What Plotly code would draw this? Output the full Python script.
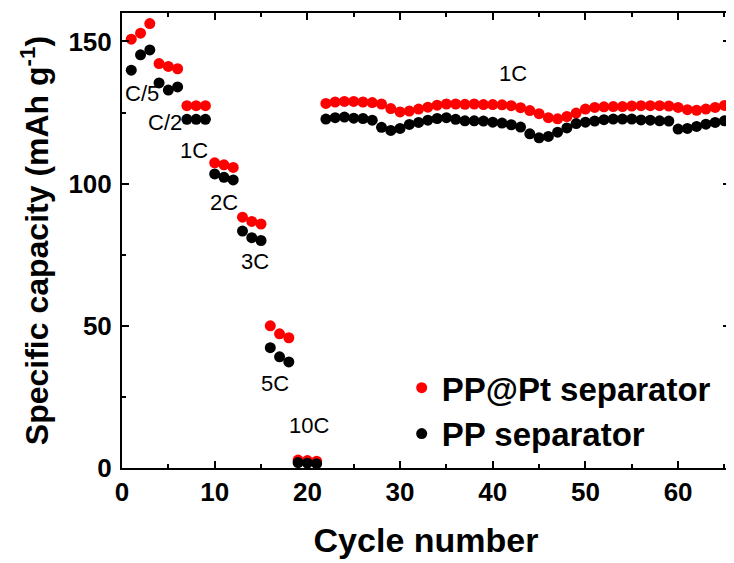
import plotly.graph_objects as go

cycles = list(range(1, 67))

pp_pt = [150.8, 152.9, 156.3, 142.2, 141.2, 140.4, 127.4, 127.4, 127.4,
         107.3, 106.6, 105.7, 88.2, 86.7, 85.8, 50.0, 47.2, 45.8, 2.8, 2.6, 2.4,
         128.2, 128.7, 128.9, 128.9, 128.7, 128.5, 128.0, 126.4, 125.2, 125.5,
         126.2, 126.9, 127.6, 128.0, 128.0, 127.9, 128.0, 127.8, 127.8, 127.7,
         127.4, 126.7, 125.7, 124.6, 123.2, 122.8, 123.6, 124.8, 126.2, 126.8,
         127.0, 127.1, 127.1, 127.3, 127.4, 127.4, 127.4, 127.3, 126.8, 126.0,
         125.8, 126.2, 126.8, 127.5, 128.0]

pp = [139.9, 145.3, 147.0, 135.4, 132.9, 134.0, 122.6, 122.6, 122.6,
      103.4, 102.2, 101.3, 83.3, 81.0, 80.0, 42.3, 39.1, 37.3, 1.9, 1.7, 1.5,
      122.7, 123.2, 123.4, 123.0, 122.9, 122.3, 119.8, 118.7, 119.4, 120.8,
      121.5, 122.3, 122.9, 123.2, 122.6, 122.1, 122.1, 122.0, 121.6, 121.3,
      120.7, 119.9, 117.5, 116.1, 116.6, 118.1, 119.6, 121.1, 121.6, 122.0,
      122.5, 122.7, 122.7, 122.7, 122.4, 122.3, 122.1, 122.0, 119.2, 119.4,
      120.1, 120.9, 121.5, 122.1, 122.7]

rate_labels = ["C/5", "C/2", "1C", "2C", "3C", "5C", "10C", "1C"]
label_x = [2.2, 4.6, 7.75, 11.0, 14.4, 16.55, 20.15, 42.2]
label_y = [131.6, 121.6, 111.7, 93.5, 72.5, 29.8, 14.8, 138.6]

FONT = "Liberation Sans, Arial, sans-serif"

fig = go.Figure()
fig.add_trace(go.Scatter(x=cycles, y=pp_pt, mode="markers", name="PP@Pt separator",
                         marker=dict(color="#ff0000", size=11, line=dict(width=0))))
fig.add_trace(go.Scatter(x=cycles, y=pp, mode="markers", name="PP separator",
                         marker=dict(color="#000000", size=11, line=dict(width=0))))

for t, x, y in zip(rate_labels, label_x, label_y):
    fig.add_annotation(x=x, y=y, text=t, showarrow=False,
                       font=dict(family=FONT, size=22, color="black"))

axis_common = dict(
    showline=True, linecolor="black", linewidth=2, mirror="allticks",
    ticks="inside", ticklen=7, tickwidth=1.5, tickcolor="black",
    showgrid=False, zeroline=False, automargin=False,
    tickfont=dict(family=FONT, size=26, color="black", weight="bold"),
)

fig.update_xaxes(range=[0, 65.6], dtick=10, tick0=0,
                 minor=dict(ticks="inside", dtick=5, ticklen=4, tickcolor="black", tickwidth=1.5),
                 title=dict(text="Cycle number", standoff=22,
                            font=dict(family=FONT, size=34, color="black", weight="bold")),
                 **axis_common)
fig.update_yaxes(range=[0, 160], dtick=50, tick0=0, ticklabelstandoff=3,
                 minor=dict(ticks="inside", dtick=25, ticklen=4, tickcolor="black", tickwidth=1.5),
                 title=dict(text="Specific capacity (mAh g<sup>-1</sup>)", standoff=10,
                            font=dict(family=FONT, size=32, color="black", weight="bold")),
                 **axis_common)

fig.update_layout(
    width=734, height=563,
    margin=dict(l=114, r=12, t=5, b=103),
    paper_bgcolor="white", plot_bgcolor="white",
    showlegend=True,
    legend=dict(x=0.46, y=0.238, xanchor="left", yanchor="top",
                bgcolor="rgba(0,0,0,0)", itemsizing="trace",
                tracegroupgap=0,
                font=dict(family=FONT, size=33, color="black", weight="bold")),
)

fig.write_html("out.html")
